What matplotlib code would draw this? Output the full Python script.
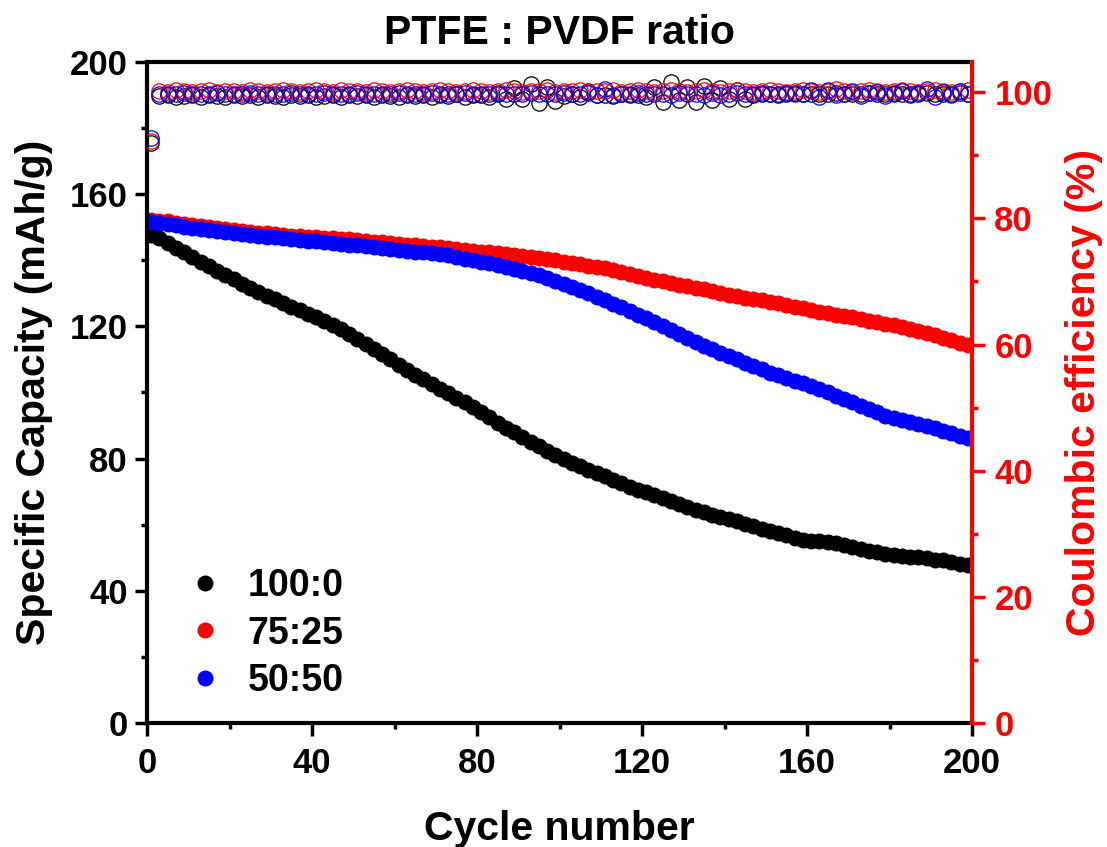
import numpy as np
import matplotlib
matplotlib.use("Agg")
import matplotlib.pyplot as plt
from matplotlib.ticker import MultipleLocator

plt.rcParams['font.family'] = ['Liberation Sans', 'DejaVu Sans']
plt.rcParams['font.weight'] = 'bold'

# cycles read every 2nd cycle
cycles = np.arange(1, 201, 2)

labels = ['100:0', '75:25', '50:50']
colors = ['black', 'red', 'blue']

cap_100_0 = [
    147.6, 146.8, 145.2, 143.7, 142.4, 141.0, 139.6, 138.3, 136.9, 135.6,
    134.2, 132.7, 131.6, 130.5, 129.3, 128.2, 127.0, 126.0, 124.9, 123.8,
    122.9, 121.7, 120.4, 119.2, 117.8, 116.3, 114.8, 113.3, 111.6, 110.0,
    108.4, 106.8, 105.4, 104.0, 102.6, 101.2, 99.7, 98.3, 97.1, 95.7,
    94.1, 92.5, 90.8, 89.2, 87.9, 86.5, 85.0, 83.7, 82.4, 81.2,
    80.0, 78.7, 77.7, 76.6, 75.6, 74.6, 73.6, 72.6, 71.5, 70.6,
    69.8, 68.9, 68.0, 67.2, 66.2, 65.4, 64.5, 63.7, 63.0, 62.4,
    61.8, 61.1, 60.3, 59.6, 58.8, 58.1, 57.4, 56.8, 56.1, 55.5,
    55.1, 55.0, 54.7, 54.5, 54.0, 53.2, 52.6, 52.0, 51.6, 51.2,
    50.8, 50.5, 50.2, 50.1, 49.8, 49.4, 49.2, 48.8, 48.2, 47.7,
]
cap_75_25 = [
    152.2, 152.0, 151.8, 151.4, 151.0, 150.7, 150.4, 150.1, 149.8, 149.5,
    149.2, 148.9, 148.7, 148.4, 148.2, 148.0, 147.7, 147.5, 147.3, 147.1,
    146.9, 146.8, 146.6, 146.5, 146.3, 146.1, 145.8, 145.6, 145.4, 145.1,
    144.9, 144.7, 144.5, 144.3, 144.1, 143.9, 143.6, 143.3, 143.1, 142.8,
    142.6, 142.4, 142.2, 141.9, 141.6, 141.3, 141.0, 140.6, 140.3, 140.0,
    139.6, 139.2, 138.8, 138.4, 138.0, 137.6, 137.1, 136.5, 135.8, 135.2,
    134.7, 134.1, 133.6, 133.1, 132.6, 132.1, 131.7, 131.3, 130.7, 130.1,
    129.6, 129.1, 128.7, 128.3, 127.9, 127.5, 127.0, 126.5, 126.0, 125.6,
    125.0, 124.5, 124.0, 123.6, 123.1, 122.7, 122.2, 121.7, 121.3, 120.8,
    120.3, 119.8, 119.1, 118.5, 117.9, 117.3, 116.6, 115.9, 115.1, 114.3,
]
cap_50_50 = [
    151.6, 151.4, 151.1, 150.6, 150.2, 149.9, 149.6, 149.2, 148.9, 148.6,
    148.3, 148.0, 147.8, 147.5, 147.2, 147.0, 146.7, 146.5, 146.2, 145.9,
    145.7, 145.5, 145.2, 145.0, 144.7, 144.5, 144.2, 143.9, 143.7, 143.4,
    143.1, 142.9, 142.6, 142.4, 142.2, 141.9, 141.5, 141.0, 140.5, 140.0,
    139.6, 139.1, 138.6, 138.1, 137.5, 136.9, 136.3, 135.7, 134.7, 133.7,
    132.9, 132.0, 131.0, 130.0, 129.0, 128.1, 126.9, 125.8, 124.6, 123.5,
    122.5, 121.3, 120.1, 119.0, 117.8, 116.6, 115.3, 114.1, 113.1, 112.0,
    111.0, 110.0, 109.0, 108.0, 107.0, 106.0, 105.2, 104.5, 103.6, 102.9,
    102.1, 101.1, 100.0, 99.0, 98.0, 97.0, 96.0, 95.0, 94.0, 93.0,
    92.2, 91.6, 91.0, 90.5, 89.9, 89.2, 88.4, 87.7, 86.9, 86.1,
]

ce_100_0 = [
    91.9,
    99.4, 99.5, 99.3, 99.4, 99.6, 99.3, 99.5, 99.4, 99.2, 99.5,
    99.4, 99.6, 99.3, 99.5, 99.4, 99.3, 99.6, 99.4, 99.5, 99.2,
    99.4, 99.5, 99.3, 99.6, 99.4, 99.5, 99.3, 99.6, 99.4, 99.2,
    99.5, 99.4, 99.6, 99.3, 99.5, 99.4, 99.7, 99.3, 99.5, 99.6,
    99.2, 99.8, 99.0, 100.6, 98.9, 101.3, 98.3, 100.9, 98.6, 99.4,
    99.8, 99.3, 100.2, 99.5, 99.6, 99.4, 99.7, 99.5, 99.6, 99.3,
    100.8, 98.5, 101.6, 98.7, 100.9, 98.4, 101.0, 98.8, 100.7, 99.0,
    100.4, 98.9, 99.6, 99.7, 99.8, 99.6, 99.7, 99.9, 99.8, 99.7,
    99.8, 99.7, 99.9, 99.8, 99.7, 99.8, 99.9, 99.7, 99.8, 99.9,
    99.8, 99.7, 99.8, 99.9, 99.8, 99.7, 99.8, 99.9, 99.8,
]
ce_75_25 = [
    92.3,
    100.2, 100.1, 100.3, 100.2, 100.1, 100.2, 100.3, 100.1, 100.2, 100.2,
    100.1, 100.3, 100.2, 100.1, 100.2, 100.3, 100.2, 100.1, 100.2, 100.3,
    100.2, 100.1, 100.3, 100.2, 100.2, 100.1, 100.3, 100.2, 100.1, 100.2,
    100.3, 100.2, 100.1, 100.2, 100.3, 100.2, 100.1, 100.2, 100.3, 100.2,
    100.1, 100.2, 100.3, 100.2, 100.1, 100.2, 100.2, 100.3, 100.1, 100.2,
    100.2, 100.3, 100.1, 100.2, 100.2, 100.3, 100.1, 100.2, 100.3, 100.2,
    100.1, 100.2, 100.3, 100.2, 100.1, 100.2, 100.3, 100.2, 100.1, 100.2,
    100.3, 100.2, 100.1, 100.2, 100.3, 100.2, 100.1, 100.2, 100.3, 100.2,
    100.1, 100.2, 100.5, 100.2, 100.1, 100.2, 100.3, 100.2, 100.1, 100.2,
    100.3, 100.2, 100.1, 100.2, 100.3, 100.2, 100.1, 100.2, 100.4,
]
ce_50_50 = [
    92.7,
    99.8, 99.7, 99.8, 99.9, 99.8, 99.7, 99.8, 99.9, 99.8, 99.7,
    99.8, 99.9, 99.8, 99.7, 99.8, 99.8, 99.9, 99.7, 99.8, 99.8,
    99.9, 99.8, 99.7, 99.8, 99.9, 99.8, 99.7, 99.8, 99.8, 99.9,
    99.8, 99.7, 99.8, 99.9, 99.8, 99.7, 99.8, 99.9, 99.8, 99.7,
    99.8, 99.9, 99.8, 99.7, 99.8, 99.9, 99.8, 99.7, 99.8, 99.9,
    99.7, 99.8, 99.9, 99.6, 100.5, 99.5, 99.8, 99.7, 99.9, 99.8,
    99.7, 99.8, 99.6, 99.9, 99.7, 99.8, 99.6, 99.9, 99.5, 99.8,
    99.9, 99.7, 99.8, 99.9, 99.7, 99.8, 99.9, 99.7, 99.8, 100.4,
    99.3, 100.3, 99.5, 99.8, 100.2, 99.4, 99.9, 100.1, 99.4, 99.8,
    100.2, 99.5, 99.9, 100.5, 99.2, 100.0, 99.6, 100.2, 99.8,
]

capacity = [cap_100_0, cap_75_25, cap_50_50]
efficiency = [ce_100_0, ce_75_25, ce_50_50]

fig = plt.figure(figsize=(11.07, 8.47), dpi=100)
ax = fig.add_axes([0.1328, 0.1464, 0.7453, 0.7804])
ax2 = ax.twinx()

for cap, c, lab in zip(capacity, colors, labels):
    ax.plot(cycles, cap, 'o', color=c, markersize=11.5, markeredgewidth=0, label=lab)

for ce, c in zip(efficiency, colors):
    ax2.plot(cycles, ce, 'o', markerfacecolor='none', markeredgecolor=c,
             markersize=11, markeredgewidth=0.9)

ax.set_xlim(0, 200)
ax.set_ylim(0, 200)
ax2.set_ylim(0, 104.8)

ax.xaxis.set_major_locator(MultipleLocator(40))
ax.xaxis.set_minor_locator(MultipleLocator(20))
ax.yaxis.set_major_locator(MultipleLocator(40))
ax.yaxis.set_minor_locator(MultipleLocator(20))
ax2.yaxis.set_major_locator(MultipleLocator(20))
ax2.yaxis.set_minor_locator(MultipleLocator(10))

for sp in ['left', 'bottom', 'top']:
    ax.spines[sp].set_linewidth(3)
ax.spines['right'].set_visible(False)
ax2.spines['right'].set_color('red')
ax2.spines['right'].set_linewidth(3)
for sp in ['left', 'bottom', 'top']:
    ax2.spines[sp].set_visible(False)

ax.tick_params(which='major', direction='out', length=9, width=2.5, labelsize=25)
ax.tick_params(which='minor', direction='out', length=4.5, width=2.5)
ax.tick_params(axis='x', which='major', pad=8)
ax.tick_params(axis='y', which='major', pad=5)
ax.tick_params(top=False, right=False, which='both')
ax2.tick_params(which='major', direction='out', length=9, width=2.5, labelsize=25,
                colors='red', pad=7)
ax2.tick_params(which='minor', direction='out', length=4.5, width=2.5, colors='red')

ax.set_xlabel('Cycle number', fontsize=29.5, fontweight='bold', labelpad=22)
ax.set_ylabel('Specific Capacity (mAh/g)', fontsize=29.5, fontweight='bold', labelpad=12)
ax2.set_ylabel('Coulombic efficiency (%)', fontsize=29.5, fontweight='bold', color='red', labelpad=9)
ax.set_title('PTFE : PVDF ratio', fontsize=29.5, fontweight='bold', pad=13)

ax.legend(loc='lower left', bbox_to_anchor=(0.047, 0.036), frameon=False,
          fontsize=27, handlelength=1.0, handletextpad=0.65, labelspacing=0.31,
          borderaxespad=0, borderpad=0)

fig.savefig('out.png', dpi=100)
